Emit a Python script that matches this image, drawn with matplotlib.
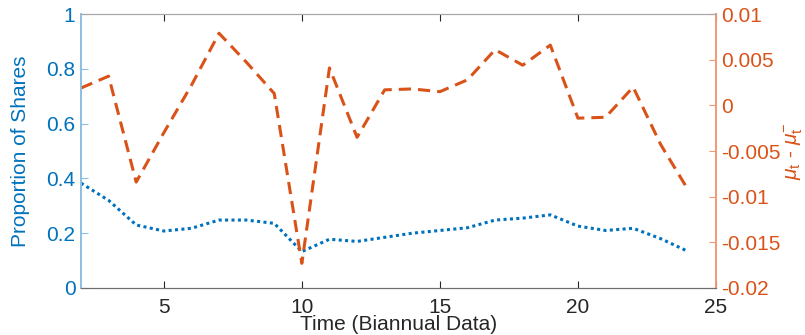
import matplotlib
matplotlib.use("Agg")
import matplotlib.pyplot as plt
import numpy as np

BLUE, ORANGE = "#0072BD", "#D95319"
plt.rcParams.update({"font.family": ["Liberation Sans", "DejaVu Sans"], "font.size": 15,
                     "mathtext.fontset": "custom", "mathtext.it": "Liberation Sans:italic",
                     "mathtext.rm": "Liberation Sans"})

periods = np.arange(2, 25)
share = [0.383, 0.32, 0.23, 0.208, 0.218, 0.248, 0.248, 0.236, 0.133, 0.178, 0.17, 0.185,
         0.20, 0.21, 0.22, 0.248, 0.255, 0.267, 0.226, 0.21, 0.218, 0.18, 0.133]
mu_gap = [0.0019, 0.0032, -0.0084, -0.0030, 0.0022, 0.0079, 0.0047, 0.0013, -0.0173,
          0.0041, -0.0035, 0.0017, 0.0018, 0.0015, 0.0028, 0.0061, 0.0044, 0.0066,
          -0.0014, -0.0013, 0.0020, -0.0043, -0.0093]

fig = plt.figure(figsize=(8.05, 3.35), dpi=100)
ax = fig.add_axes([0.1006, 0.1403, 0.7888, 0.8177])
ax2 = ax.twinx()

ax.plot(periods, share, color=BLUE, lw=2.2, ls=(0, (1, 1.1)), dash_capstyle="butt")
ax2.plot(periods, mu_gap, color=ORANGE, lw=2.2, ls=(0, (4, 2.3)), dash_capstyle="butt")

ax.set_xlim(2, 25)
ax.set_ylim(0, 1)
ax2.set_ylim(-0.02, 0.01)
ax.set_xticks([5, 10, 15, 20, 25])
ax.set_yticks(np.arange(0, 1.01, 0.2))
ax.set_yticklabels(["0", "0.2", "0.4", "0.6", "0.8", "1"])
ax2.set_yticks([-0.02, -0.015, -0.01, -0.005, 0, 0.005, 0.01])
ax2.set_yticklabels(["-0.02", "-0.015", "-0.01", "-0.005", "0", "0.005", "0.01"])

ax.tick_params(axis="x", direction="in", length=5, colors="#262626", top=True, pad=7,
               labelsize=15)
ax.tick_params(axis="y", direction="in", length=5, colors=BLUE, labelsize=15, pad=4)
ax2.tick_params(axis="y", direction="in", length=5, colors=ORANGE, labelsize=15, pad=4)
ax.tick_params(axis="y", color="#8CBFE3")
ax2.tick_params(axis="y", color="#EE9A70")

for a in (ax, ax2):
    a.spines["top"].set_color("#A8A8A8")
    a.spines["bottom"].set_color("#6E6E6E")
    a.spines["left"].set_color("#8CBFE3")
    a.spines["right"].set_color("#EE9A70")
    a.spines["left"].set_linewidth(1.2)
    a.spines["right"].set_linewidth(1.2)

ax.set_xlabel("Time (Biannual Data)", color="#262626", fontsize=15, labelpad=-1)
ax.set_ylabel("Proportion of Shares", color=BLUE, fontsize=15, labelpad=12)
ax2.set_ylabel(r"$\mu_{\mathrm{t}}$ - $\mu^{-}_{\mathrm{t}}$", color=ORANGE, fontsize=15,
               labelpad=1)

fig.savefig("out.png", dpi=100)
